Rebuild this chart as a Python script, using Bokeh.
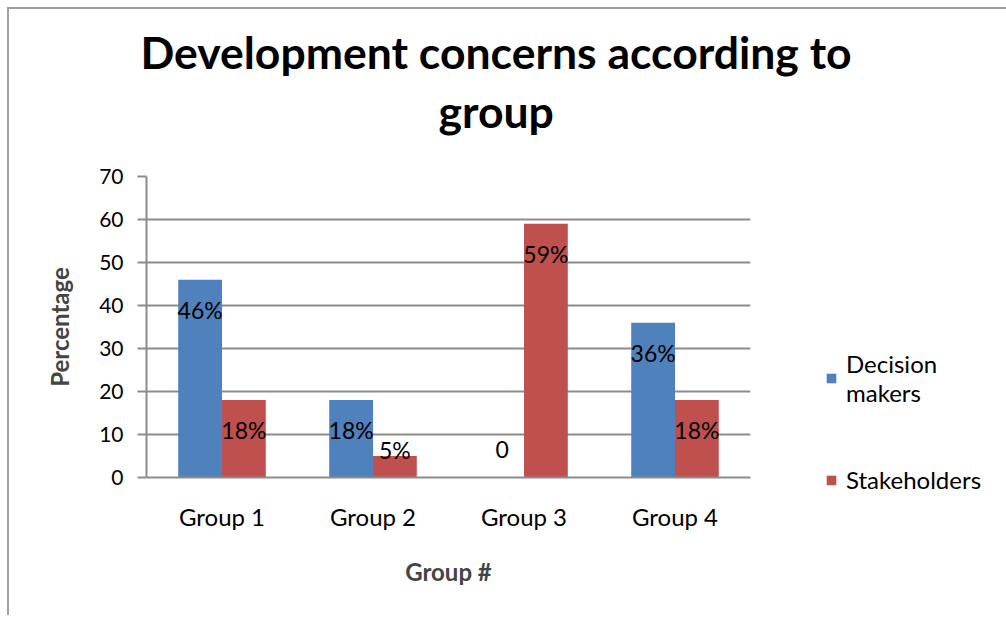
from bokeh.plotting import figure
from bokeh.models import ColumnDataSource, FactorRange, Range1d, Legend, LegendItem, Title, SingleIntervalTicker
from bokeh.transform import dodge
from bokeh.embed import file_html
from bokeh.resources import INLINE

groups = ["Group 1", "Group 2", "Group 3", "Group 4"]
decision_makers = [46, 18, 0, 36]
stakeholders = [18, 5, 59, 18]
dm_labels = ["46%", "18%", "0", "36%"]
sh_labels = ["18%", "5%", "59%", "18%"]
series_names = ["Decision\nmakers", "Stakeholders"]
colors = ["#4F81BD", "#C0504D"]
title_lines = ["Development concerns according to", "group"]

FONT = "Lato"
GRID = "#8c8c8c"

def label_pos(vals):
    return [max(v - 7, 6.5) for v in vals]

src = ColumnDataSource(dict(
    g=groups, dm=decision_makers, sh=stakeholders,
    dml=dm_labels, shl=sh_labels,
    dmy=label_pos(decision_makers), shy=label_pos(stakeholders),
))

p = figure(x_range=FactorRange(*groups), y_range=Range1d(0, 70),
           frame_width=604, frame_height=301, output_backend="svg", toolbar_location=None,
           min_border_left=137, min_border_right=254, min_border_top=0, min_border_bottom=138)
p.styles = {"margin-left": "7px", "margin-top": "7px",
            "border-left": "2px solid #a0a0a0", "border-top": "2px solid #a0a0a0"}
p.outline_line_color = None

bw = 0.29
r1 = p.vbar(x=dodge("g", -bw / 2, range=p.x_range), top="dm", width=bw, source=src,
            fill_color=colors[0], line_color=None)
r2 = p.vbar(x=dodge("g", bw / 2, range=p.x_range), top="sh", width=bw, source=src,
            fill_color=colors[1], line_color=None)

for xoff, ycol, tcol in [(-bw / 2, "dmy", "dml"), (bw / 2, "shy", "shl")]:
    p.text(x=dodge("g", xoff, range=p.x_range), y=ycol, text=tcol, source=src,
           text_align="center", text_baseline="middle", text_font_size="23px",
           text_font={"value": FONT}, text_color="black")

# axes
p.yaxis.ticker = SingleIntervalTicker(interval=10)
p.yaxis.minor_tick_line_color = None
p.yaxis.major_tick_out = 9
p.yaxis.major_tick_in = 0
p.yaxis.major_tick_line_color = GRID
p.yaxis.major_tick_line_width = 2
p.yaxis.axis_line_color = GRID
p.yaxis.axis_line_width = 2
p.yaxis.major_label_standoff = 14
p.yaxis.major_label_text_font_size = "21px"
p.yaxis.major_label_text_font = FONT
p.yaxis.major_label_text_color = "black"
p.yaxis.axis_label = "Percentage"
p.yaxis.axis_label_text_font = FONT
p.yaxis.axis_label_text_font_style = "bold"
p.yaxis.axis_label_text_font_size = "24px"
p.yaxis.axis_label_standoff = 22

p.xaxis.major_tick_line_color = None
p.xaxis.major_tick_out = 0
p.xaxis.axis_line_color = GRID
p.xaxis.axis_line_width = 2
p.xaxis.major_label_standoff = 24
p.xaxis.major_label_text_font_size = "24px"
p.xaxis.major_label_text_font = FONT
p.xaxis.major_label_text_color = "black"
p.xaxis.axis_label = "Group #"
p.xaxis.axis_label_text_font = FONT
p.xaxis.axis_label_text_font_style = "bold"
p.xaxis.axis_label_text_font_size = "24px"
p.xaxis.axis_label_standoff = 23

p.xgrid.grid_line_color = None
p.ygrid.grid_line_color = GRID
p.ygrid.grid_line_width = 2

# title block (first added sits nearest the plot; p.title is outermost spacer)
p.title.text = " "
p.title.text_font_size = "1px"
p.title.standoff = 8
p.add_layout(Title(text=" ", text_font_size="1px", standoff=35), "above")
p.add_layout(Title(text=title_lines[1], align="left", offset=292, standoff=4,
                   text_font=FONT, text_font_style="bold", text_font_size="44.5px",
                   text_color="black"), "above")
p.add_layout(Title(text=title_lines[0], align="left", offset=-6, standoff=4,
                   text_font=FONT, text_font_style="bold", text_font_size="44.5px",
                   text_color="black"), "above")

legend = Legend(items=[LegendItem(label=series_names[0], renderers=[r1]),
                       LegendItem(label=series_names[1], renderers=[r2])],
                location=(75, -17), glyph_width=12, glyph_height=12, label_standoff=9,
                padding=0, margin=0, spacing=58, border_line_color=None,
                background_fill_alpha=0, label_text_font=FONT, label_text_font_size="24px",
                label_text_line_height=1.7, label_text_color="black")
p.add_layout(legend, "right")

open("out.html", "w").write(file_html(p, INLINE))
